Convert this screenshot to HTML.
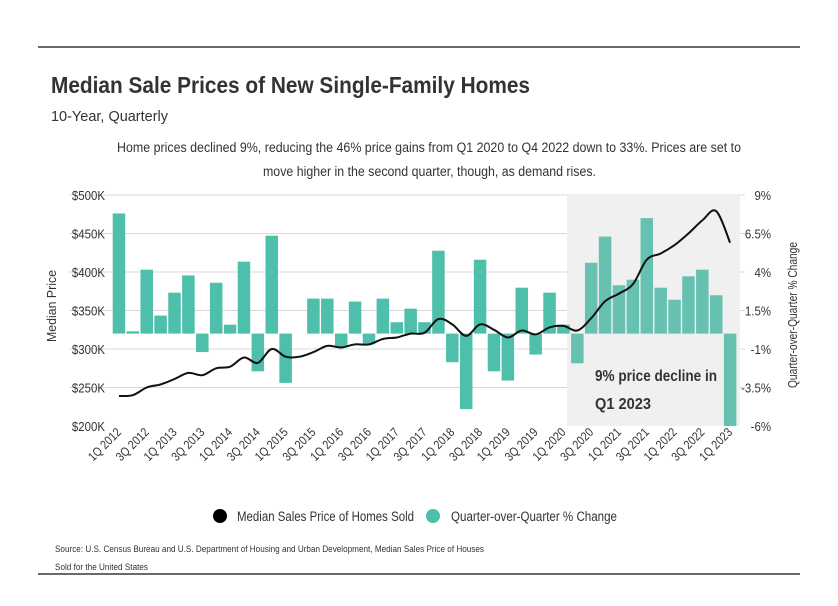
<!DOCTYPE html>
<html><head><meta charset="utf-8">
<style>
html,body{margin:0;padding:0;background:#fff;}
svg{display:block;font-family:"Liberation Sans",sans-serif;}
</style></head>
<body>
<svg id="chart" width="838" height="606" viewBox="0 0 838 606" xmlns="http://www.w3.org/2000/svg">
<line x1="38" y1="47" x2="800" y2="47" stroke="#111" stroke-width="1.3"/>
<text x="51" y="93" font-size="23" font-weight="bold" fill="#333" textLength="479" lengthAdjust="spacingAndGlyphs">Median Sale Prices of New Single-Family Homes</text>
<text x="51" y="121" font-size="15" fill="#333" textLength="117" lengthAdjust="spacingAndGlyphs">10-Year, Quarterly</text>
<text x="117" y="152" font-size="13.5" fill="#333" textLength="624" lengthAdjust="spacingAndGlyphs">Home prices declined 9%, reducing the 46% price gains from Q1 2020 to Q4 2022 down to 33%. Prices are set to</text>
<text x="263" y="176" font-size="13.5" fill="#333" textLength="333" lengthAdjust="spacingAndGlyphs">move higher in the second quarter, though, as demand rises.</text>
<g id="grid"></g>
<rect x="567" y="195" width="173" height="231" fill="#f0f0f0"/>
<g id="bars"></g>
<path id="line" fill="none" stroke="#111" stroke-width="2" stroke-linejoin="round"/>
<g id="axes"></g>
<text x="595" y="381" font-size="16" font-weight="bold" fill="#333" textLength="122" lengthAdjust="spacingAndGlyphs">9% price decline in</text>
<text x="595" y="409" font-size="16" font-weight="bold" fill="#333" textLength="56" lengthAdjust="spacingAndGlyphs">Q1 2023</text>
<text transform="translate(56,306) rotate(-90)" font-size="13" fill="#333" x="-36" textLength="72" lengthAdjust="spacingAndGlyphs">Median Price</text>
<text transform="translate(797,315) rotate(-90)" font-size="13" fill="#333" x="-73" textLength="146" lengthAdjust="spacingAndGlyphs">Quarter-over-Quarter % Change</text>
<g>
<g><circle cx="220" cy="516" r="7" fill="#000"/><text x="237" y="521" font-size="13.5" fill="#333" textLength="177" lengthAdjust="spacingAndGlyphs">Median Sales Price of Homes Sold</text></g>
<g><circle cx="433" cy="516" r="7" fill="#4dbfab"/><text x="451" y="521" font-size="13.5" fill="#333" textLength="166" lengthAdjust="spacingAndGlyphs">Quarter-over-Quarter % Change</text></g>
</g>
<text x="55" y="552" font-size="9" fill="#333" textLength="429" lengthAdjust="spacingAndGlyphs">Source:  U.S. Census Bureau and U.S. Department of Housing and Urban Development, Median Sales Price of Houses</text>
<text x="55" y="570" font-size="9" fill="#333" textLength="93" lengthAdjust="spacingAndGlyphs">Sold for the United States</text>
<line x1="38" y1="574" x2="800" y2="574" stroke="#111" stroke-width="1.3"/>
</svg>
<script>
const categories=[];
for(let y=2012;y<=2022;y++){for(let q=1;q<=4;q++)categories.push(q+'Q '+y);}
categories.push('1Q 2023');
const pctChange=[7.8,0.15,4.15,1.17,2.66,3.78,-1.2,3.3,0.58,4.67,-2.45,6.36,-3.2,0,2.27,2.27,-0.9,2.08,-0.7,2.27,0.74,1.62,0.74,5.38,-1.86,-4.9,4.8,-2.45,-3.05,2.98,-1.36,2.66,0.58,-1.93,4.6,6.3,3.14,3.5,7.5,2.98,2.2,3.72,4.15,2.49,-9];
const medianPrice=[239,240,250,254,261,269,266,275,277,289,282,300,290,290,296,304,302,306,306,313,315,320,321,339,332,317,332,325,315,324,319,328,330,324,340,362,372,384,416,424,435,450,467,479,438];
const leftTicks=['$200K','$250K','$300K','$350K','$400K','$450K','$500K'];
const leftTickVals=[200,250,300,350,400,450,500];
const rightTicks=['-6%','-3.5%','-1%','1.5%','4%','6.5%','9%'];
const rightTickVals=[-6,-3.5,-1,1.5,4,6.5,9];

const NS='http://www.w3.org/2000/svg';
const plotTop=195,plotBot=426,x0=112.7,pitch=13.89,bw=12.5;
const yP=v=>plotTop+(500-v)/300*(plotBot-plotTop);
const yC=v=>plotTop+(9-v)/15*(plotBot-plotTop);
const xC=i=>x0+pitch*i+bw/2;
function mk(tag,attrs,parent){const e=document.createElementNS(NS,tag);for(const k in attrs)e.setAttribute(k,attrs[k]);parent.appendChild(e);return e;}
const grid=document.getElementById('grid'),axes=document.getElementById('axes'),bars=document.getElementById('bars');
leftTickVals.forEach((v,i)=>{
  const y=yP(v);
  if(i>0){const l=mk('line',{x1:69,x2:745,y1:y,y2:y,stroke:'#d9d9d9','stroke-width':1},grid);
  
  }
  const t=mk('text',{x:105,y:y+5,'font-size':13,fill:'#333','text-anchor':'end',transform:'translate(105,0) scale(0.88,1) translate(-105,0)'},axes);t.textContent=leftTicks[i];
  
  
});
rightTickVals.forEach((v,i)=>{
  const y=yC(v);
  const t=mk('text',{x:771,y:y+5,'font-size':13,fill:'#333','text-anchor':'end',transform:'translate(771,0) scale(0.88,1) translate(-771,0)'},axes);t.textContent=rightTicks[i];
  
  
});
const zero=yC(0);
pctChange.forEach((v,i)=>{
  let top=Math.min(yC(v),zero),bot=Math.max(yC(v),zero);
  top=Math.max(top,plotTop);bot=Math.min(bot,plotBot);
  if(bot-top<0.01)return;
  const r=mk('rect',{x:x0+pitch*i,y:top,width:bw,height:bot-top,fill:i>=33?'#66c1b1':'#4dbfab'},bars);
  
  
});
const pts=medianPrice.map((v,i)=>[xC(i),yP(v)]);
let d='M'+pts[0][0].toFixed(1)+','+pts[0][1].toFixed(1);
for(let i=0;i<pts.length-1;i++){
  const p0=pts[Math.max(i-1,0)],p1=pts[i],p2=pts[i+1],p3=pts[Math.min(i+2,pts.length-1)];
  const c1=[p1[0]+(p2[0]-p0[0])/6,p1[1]+(p2[1]-p0[1])/6];
  const c2=[p2[0]-(p3[0]-p1[0])/6,p2[1]-(p3[1]-p1[1])/6];
  d+='C'+c1[0].toFixed(1)+','+c1[1].toFixed(1)+' '+c2[0].toFixed(1)+','+c2[1].toFixed(1)+' '+p2[0].toFixed(1)+','+p2[1].toFixed(1);
}
document.getElementById('line').setAttribute('d',d);
categories.forEach((c,i)=>{
  if(i%2)return;
  const x=xC(i)+3,y=433;
  const t=mk('text',{transform:'translate('+x+','+y+') rotate(-45) scale(0.85,1)','font-size':12.5,fill:'#333','text-anchor':'end'},axes);
  t.textContent=c;
  
  
});
</script>
</body></html>
